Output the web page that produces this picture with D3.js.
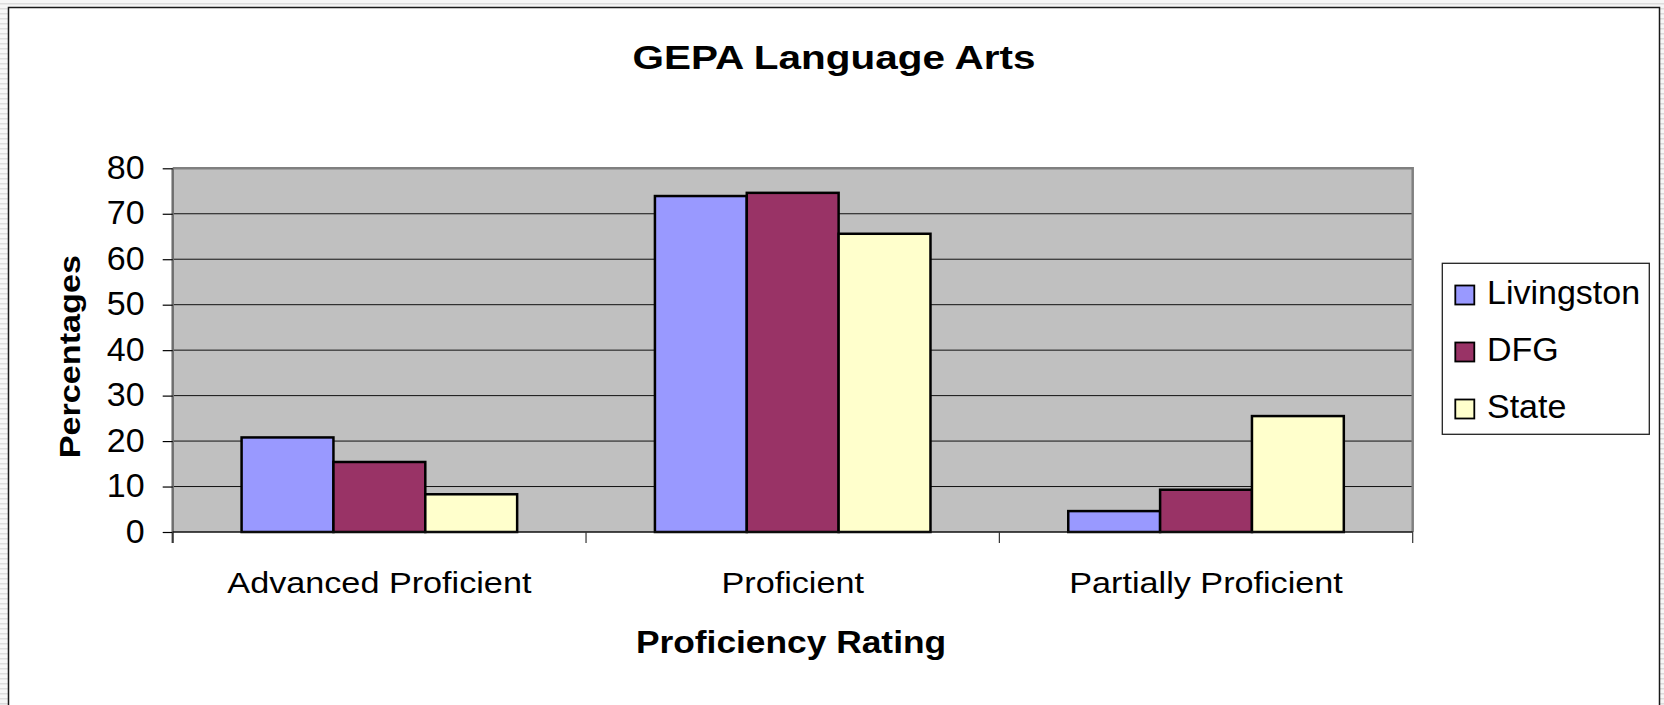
<!DOCTYPE html>
<html>
<head>
<meta charset="utf-8">
<script src="https://cdn.jsdelivr.net/npm/d3@7"></script>
<style>
  html, body { margin: 0; padding: 0; background: #ffffff; }
  svg { display: block; }
  text { font-family: "Liberation Sans", Arial, Helvetica, sans-serif; fill: #000; }
</style>
</head>
<body>
<svg id="chart" width="1664" height="705"></svg>
<script>
// ---------- data ----------
const categories = ["Advanced Proficient", "Proficient", "Partially Proficient"];
const seriesNames = ["Livingston", "DFG", "State"];
const livingston = [20.8, 73.9, 4.6];
const dfg = [15.4, 74.6, 9.3];
const state = [8.3, 65.6, 25.5];
const yTicks = [0, 10, 20, 30, 40, 50, 60, 70, 80];
const chartTitle = "GEPA Language Arts";
const xTitle = "Proficiency Rating";
const yTitle = "Percentages";

// ---------- styles ----------
const seriesColors = ["#9999FF", "#993366", "#FFFFCC"];
const plotFill = "#C0C0C0";

const seriesValues = [livingston, dfg, state];
const rows = categories.map((c, i) => ({
  category: c,
  values: seriesNames.map((s, j) => ({ series: s, value: seriesValues[j][i], color: seriesColors[j] }))
}));

const svg = d3.select("#chart");
const W = 1664, H = 705;

// page edge pattern
const defs = svg.append("defs");
const pat = defs.append("pattern").attr("id", "stripes").attr("patternUnits", "userSpaceOnUse")
  .attr("width", 10).attr("height", 5);
pat.append("rect").attr("width", 10).attr("height", 5).attr("fill", "#f6f6f6");
pat.append("rect").attr("y", 3).attr("width", 10).attr("height", 1.5).attr("fill", "#dcdcdc");

svg.append("rect").attr("width", W).attr("height", H).attr("fill", "url(#stripes)");
// chart area
svg.append("rect").attr("x", 8.5).attr("y", 7.5).attr("width", 1651).attr("height", 720)
  .attr("fill", "#ffffff").attr("stroke", "#1a1a1a").attr("stroke-width", 1.5);

// ---------- plot geometry ----------
const L = 172.7, R = 1412.7, T = 168.3, B = 532;

const y = d3.scaleLinear().domain([0, 80]).range([B, T]);
const x0 = d3.scaleBand().domain(categories).range([L, R]).paddingInner(1/3).paddingOuter(1/6);
const x1 = d3.scaleBand().domain(seriesNames).range([0, x0.bandwidth()]);
const step = x0.step();

// plot area background
svg.append("rect").attr("x", L).attr("y", T).attr("width", R - L).attr("height", B - T)
  .attr("fill", plotFill);

// gridlines
svg.append("g").selectAll("line").data(yTicks.filter(t => t > 0 && t < 80)).join("line")
  .attr("x1", L).attr("x2", R).attr("y1", d => y(d)).attr("y2", d => y(d))
  .attr("stroke", "#111").attr("stroke-width", 1);

// plot border (top/right gray)
svg.append("path")
  .attr("d", `M${L},${T} H${R} V${B}`)
  .attr("fill", "none").attr("stroke", "#808080").attr("stroke-width", 2.5);

// bars
const groups = svg.append("g").selectAll("g").data(rows).join("g")
  .attr("transform", d => `translate(${x0(d.category)},0)`);
groups.selectAll("rect").data(d => d.values).join("rect")
  .attr("x", d => x1(d.series))
  .attr("y", d => y(d.value))
  .attr("width", x1.bandwidth())
  .attr("height", d => y(0) - y(d.value))
  .attr("fill", d => d.color)
  .attr("stroke", "#000").attr("stroke-width", 2.5);

// y axis line
svg.append("line").attr("x1", L).attr("x2", L).attr("y1", T).attr("y2", B + 11)
  .attr("stroke", "#6e6e6e").attr("stroke-width", 2.5);

// y axis
const yAxis = d3.axisLeft(y).tickValues(yTicks).tickSize(10).tickPadding(18).tickFormat(d3.format("d"));
const yg = svg.append("g").attr("transform", `translate(${L},0)`).call(yAxis);
yg.select(".domain").remove();
yg.selectAll(".tick line").attr("stroke", "#000").attr("stroke-width", 1.2);
yg.selectAll(".tick text")
  .attr("font-size", 34).attr("font-family", "'Liberation Sans', Arial, sans-serif")
  .attr("fill", "#000").attr("dy", "0.3em");

// x axis line
svg.append("line").attr("x1", L).attr("x2", R).attr("y1", B).attr("y2", B)
  .attr("stroke", "#111").attr("stroke-width", 1.5);

// category boundary ticks
svg.append("g").selectAll("line").data(d3.range(categories.length + 1)).join("line")
  .attr("x1", i => L + i * step).attr("x2", i => L + i * step)
  .attr("y1", B).attr("y2", B + 11)
  .attr("stroke", "#333").attr("stroke-width", 1.2);

// helper for stretched text
function stretchedText(txt, xPos, yPos, size, sx, weight, rotate) {
  const g = svg.append("g").attr("transform", `translate(${xPos},${yPos})` + (rotate ? ` rotate(${rotate})` : ""));
  g.append("text").text(txt)
    .attr("transform", `scale(${sx},1)`)
    .attr("text-anchor", "middle")
    .attr("font-size", size)
    .attr("font-weight", weight);
}

// category labels
categories.forEach(c => {
  stretchedText(c, x0(c) + x0.bandwidth() / 2, 592.5, 30, 1.14, "normal");
});

// titles
stretchedText(chartTitle, 834, 69, 34, 1.19, "bold");
stretchedText(xTitle, 791, 653, 31, 1.14, "bold");
stretchedText(yTitle, 80, 356.7, 30, 1.14, "bold", -90);

// legend
const lg = svg.append("g");
const LX = 1442.3, LY = 263.3, LW = 207, LH = 171;
lg.append("rect").attr("x", LX).attr("y", LY).attr("width", LW).attr("height", LH)
  .attr("fill", "#fff").attr("stroke", "#222").attr("stroke-width", 1.3);
const items = lg.selectAll("g").data(seriesNames.map((s, i) => ({ s, c: seriesColors[i] }))).join("g")
  .attr("transform", (d, i) => `translate(${LX},${LY + 31.7 + i * 57})`);
items.append("rect").attr("x", 13).attr("y", -9.5).attr("width", 19).attr("height", 19)
  .attr("fill", d => d.c).attr("stroke", "#000").attr("stroke-width", 1.8);
items.append("text").text(d => d.s).attr("x", 44.7).attr("y", 8.5)
  .attr("font-size", 34);
</script>
</body>
</html>
